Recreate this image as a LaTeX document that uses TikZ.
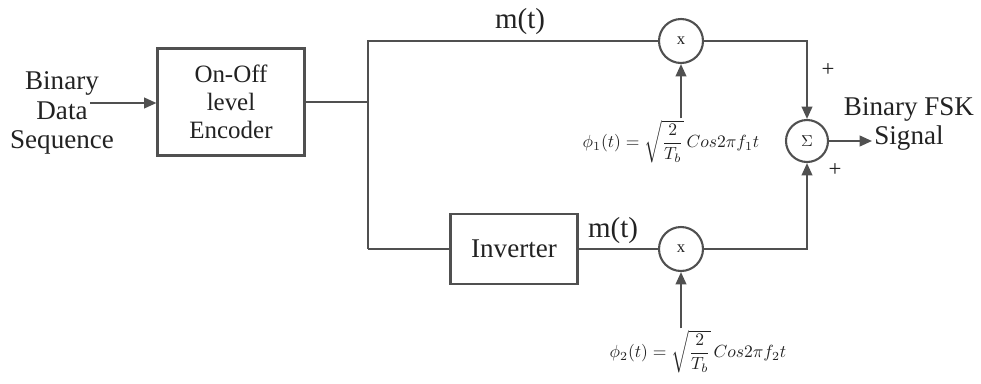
\documentclass[tikz,border=0pt]{standalone}
\usepackage{fontspec}
\setmainfont{Liberation Serif}
\usepackage{amsmath}
\usetikzlibrary{arrows.meta, positioning}
\definecolor{fwire}{HTML}{505050}
\definecolor{ftext}{HTML}{222222}
\tikzset{
  wire/.style={draw=fwire, line width=1.2pt},
  arr/.style={wire, -{Triangle[length=7pt, width=6pt]}},
  blk/.style={draw=fwire, line width=1.2pt, text=ftext, align=center, inner sep=0pt},
  mix/.style={circle, draw=fwire, line width=1.2pt, minimum size=0.88cm, inner sep=0pt,
              text=ftext, font=\fontsize{9.5pt}{10pt}\selectfont},
  lbl/.style={text=ftext, align=center, inner sep=1pt,
              font=\fontsize{15.4pt}{17pt}\selectfont},
  eqn/.style={text=ftext, inner sep=1pt, font=\fontsize{10.4pt}{12pt}\selectfont},
}
\begin{document}
\begin{tikzpicture}[x=0.02cm, y=-0.02cm]
  \useasboundingbox (0,0) rectangle (981,383);
  % input
  \node[lbl] (src) at (62,113) {Binary\\Data\\Sequence};
  \coordinate (srcend) at (90,103);
  % encoder
  \node[blk, minimum width=2.94cm, minimum height=2.14cm,
        font=\fontsize{14.2pt}{15.9pt}\selectfont] (enc) at (231,102) {On-Off\\level\\Encoder};
  \draw[arr] (srcend) -- (enc.west |- srcend);
  % split point
  \coordinate (split) at (368,102);
  \coordinate (top) at (368,41);
  \coordinate (bot) at (368,249);
  \draw[wire] (enc.east |- split) -- (split);
  % upper branch
  \node[mix] (m1) at (681,41) {x};
  \node[lbl, font=\fontsize{16.5pt}{18pt}\selectfont] (mt1) at (520,22) {m(t)};
  \draw[wire] (m1.west) -- (top) -- (bot);
  % lower branch
  \node[blk, minimum width=2.54cm, minimum height=1.4cm,
        font=\fontsize{15.4pt}{17pt}\selectfont] (inv) at (514,249) {Inverter};
  \node[mix] (m2) at (681,249) {x};
  \node[lbl, font=\fontsize{16.5pt}{18pt}\selectfont] (mt2) at (613,231) {m(t)};
  \draw[wire] (bot) -- (inv.west);
  \draw[wire] (inv.east) -- (m2.west);
  % carriers
  \node[eqn] (phi1) at (671,142) {$\phi_1(t)=\sqrt{\dfrac{2}{T_b}}\,Cos2\pi f_1 t$};
  \node[eqn] (phi2) at (698,352) {$\phi_2(t)=\sqrt{\dfrac{2}{T_b}}\,Cos2\pi f_2 t$};
  \draw[arr] (phi1.north -| m1) -- (m1.south);
  \draw[arr] (phi2.north -| m2) -- (m2.south);
  % summer
  \node[mix, minimum size=0.84cm] (sum) at (807,141) {$\Sigma$};
  \draw[arr] (m1.east) -| (sum.north);
  \draw[arr] (m2.east) -| (sum.south);
  \node[lbl, font=\fontsize{13pt}{14pt}\selectfont] (p1) at (828,70) {+};
  \node[lbl, font=\fontsize{13pt}{14pt}\selectfont] (p2) at (835,170) {+};
  % output
  \node[lbl] (out) at (909,124) {Binary FSK\\Signal};
  \coordinate (outend) at (872,141);
  \draw[arr] (sum.east) -- (outend);
\end{tikzpicture}
\end{document}
